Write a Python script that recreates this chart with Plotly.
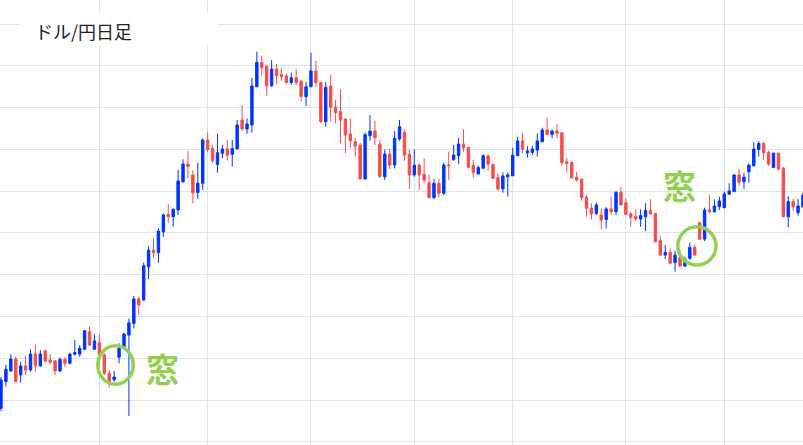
import pandas as pd
import plotly.graph_objects as go

# ドル/円 日足 (2016/10 - 2017/05)
holidays = ['2016-12-26', '2017-01-02']
days = pd.bdate_range('2016-10-04', '2017-05-23')
days = [d.strftime('%Y-%m-%d') for d in days if d.strftime('%Y-%m-%d') not in holidays]

month_starts = ['2016-11-01', '2016-12-01', '2017-01-03', '2017-02-01',
                '2017-03-01', '2017-04-03', '2017-05-01']

open_ = [
    101.60, 102.88, 103.39, 103.96, 103.20, 103.63, 103.44, 104.20, 103.63, 104.35,
    103.92, 103.88, 103.39, 103.95, 103.76, 104.19, 104.20, 104.43, 105.27, 104.43,
    104.74, 104.16, 103.28, 102.97, 104.05, 104.55, 105.11, 105.67, 106.84, 106.79,
    108.38, 109.18, 109.05, 110.06, 110.89, 110.78, 111.10, 112.45, 113.30, 112.78,
    111.93, 112.38, 114.45, 114.05, 113.28, 113.82, 114.02, 113.77, 114.02, 115.41,
    114.98, 115.17, 117.00, 118.17, 117.99, 117.05, 117.85, 117.59, 117.52, 117.21,
    117.43, 117.28, 116.53, 117.00, 117.76, 117.21, 115.33, 117.04, 116.02, 115.81,
    115.46, 114.74, 114.37, 114.21, 112.58, 114.66, 114.88, 114.26, 112.69, 113.78,
    113.25, 114.50, 114.82, 113.77, 112.78, 113.25, 112.81, 112.41, 111.69, 112.38,
    111.90, 113.25, 113.52, 113.70, 114.26, 114.10, 113.23, 112.82, 113.10, 113.69,
    113.29, 112.65, 112.11, 112.69, 112.74, 113.70, 114.41, 113.84, 113.86, 113.97,
    114.37, 114.93, 114.72, 114.88, 114.80, 113.41, 113.37, 112.67, 112.58, 111.71,
    111.18, 110.94, 110.86, 110.65, 111.15, 111.02, 111.95, 111.45, 110.91, 110.78,
    110.67, 110.78, 111.07, 110.94, 109.63, 108.94, 109.07, 108.58, 108.83, 108.42,
    108.79, 109.31, 110.49, 109.71, 111.10, 111.02, 111.26, 111.21, 111.86, 111.98,
    112.78, 112.45, 112.93, 113.22, 114.00, 114.29, 113.86, 113.13, 113.82, 113.10,
    110.78, 111.50, 110.97, 111.26,
]
high = [
    103.10, 103.68, 104.20, 104.07, 103.83, 104.11, 104.43, 104.67, 104.39, 104.43,
    104.19, 103.90, 104.03, 104.03, 104.27, 104.87, 104.63, 105.35, 105.54, 105.15,
    105.16, 104.24, 103.44, 103.39, 104.72, 105.22, 105.91, 106.98, 106.95, 108.58,
    109.38, 109.74, 110.22, 110.94, 111.39, 111.18, 113.02, 113.53, 113.93, 113.02,
    113.37, 114.53, 114.82, 114.21, 114.77, 114.21, 114.45, 114.45, 115.41, 116.13,
    115.49, 117.43, 118.68, 118.49, 118.00, 118.28, 118.09, 117.88, 117.65, 117.68,
    117.85, 117.28, 117.24, 118.64, 118.25, 117.21, 117.24, 117.57, 116.37, 116.89,
    115.46, 115.49, 114.56, 114.31, 114.80, 115.64, 115.38, 114.45, 114.00, 114.02,
    114.88, 115.41, 114.97, 113.97, 114.00, 113.33, 113.57, 112.78, 112.58, 112.58,
    113.37, 113.89, 114.21, 114.56, 114.97, 114.10, 113.49, 113.23, 113.77, 113.77,
    113.29, 112.86, 112.90, 112.89, 114.08, 114.61, 114.80, 114.16, 114.17, 114.77,
    115.04, 115.52, 114.96, 115.22, 114.80, 113.60, 113.41, 112.93, 112.58, 111.82,
    111.42, 111.45, 111.18, 111.23, 111.74, 111.98, 112.22, 111.66, 111.02, 111.13,
    111.13, 111.42, 111.61, 110.94, 109.85, 109.42, 109.27, 109.15, 109.22, 108.87,
    109.53, 109.42, 110.54, 111.21, 111.82, 111.61, 111.74, 111.98, 112.38, 112.80,
    113.06, 112.89, 113.33, 114.34, 114.40, 114.37, 113.94, 113.84, 113.85, 113.16,
    111.77, 111.63, 111.63, 111.92,
]
low = [
    101.47, 102.64, 103.36, 102.86, 102.83, 103.20, 103.36, 103.36, 103.60, 103.79,
    103.71, 103.20, 103.34, 103.57, 103.71, 104.14, 104.07, 104.39, 104.59, 104.39,
    104.11, 103.20, 102.59, 102.88, 103.76, 104.39, 101.23, 105.43, 106.07, 106.74,
    107.79, 108.79, 108.58, 109.82, 110.49, 110.30, 110.86, 112.41, 112.62, 111.42,
    111.63, 112.06, 113.86, 113.33, 112.89, 113.57, 113.46, 113.18, 114.02, 114.90,
    114.74, 114.80, 117.00, 117.53, 116.57, 117.00, 117.13, 117.29, 117.13, 117.09,
    117.09, 116.29, 116.08, 117.00, 117.00, 115.25, 115.09, 115.33, 115.25, 114.29,
    113.82, 114.05, 113.66, 112.58, 112.58, 114.42, 114.21, 112.69, 112.54, 113.06,
    113.09, 114.41, 113.46, 112.11, 112.69, 112.06, 112.38, 111.66, 111.63, 111.69,
    111.82, 112.54, 113.45, 113.29, 113.89, 113.11, 112.65, 112.82, 113.06, 112.97,
    112.58, 112.01, 111.93, 111.74, 112.74, 113.70, 113.82, 113.60, 113.73, 113.66,
    114.34, 114.69, 114.53, 114.53, 113.22, 112.93, 112.58, 112.45, 111.55, 110.78,
    110.65, 110.86, 110.17, 110.22, 110.86, 110.86, 111.34, 110.86, 110.30, 110.55,
    110.30, 110.09, 110.86, 109.55, 108.91, 108.75, 108.51, 108.14, 108.36, 108.36,
    108.71, 108.91, 109.66, 109.61, 110.94, 110.97, 111.10, 111.18, 111.82, 111.97,
    112.30, 112.11, 112.41, 113.18, 113.66, 113.49, 113.22, 113.13, 112.98, 110.78,
    110.27, 111.05, 110.83, 111.20,
]
close = [
    102.96, 103.47, 103.96, 102.88, 103.63, 103.44, 104.20, 103.63, 104.20, 103.87,
    103.82, 103.39, 103.95, 103.76, 104.20, 104.27, 104.48, 105.32, 104.63, 104.83,
    104.16, 103.28, 102.80, 103.10, 104.48, 105.16, 105.70, 106.84, 106.55, 108.43,
    109.18, 109.05, 110.09, 110.86, 110.78, 111.13, 112.49, 113.30, 113.18, 111.93,
    112.38, 114.45, 114.00, 113.46, 113.84, 114.02, 113.73, 114.05, 115.17, 114.98,
    115.22, 117.04, 118.17, 117.91, 117.05, 117.85, 117.53, 117.48, 117.21, 117.43,
    117.21, 116.53, 117.00, 117.76, 117.20, 115.33, 116.97, 116.02, 115.76, 115.41,
    114.69, 114.42, 114.16, 112.58, 114.71, 114.88, 114.56, 112.69, 113.78, 113.25,
    114.53, 115.09, 113.73, 112.78, 113.25, 112.78, 112.54, 111.69, 112.38, 111.90,
    113.25, 113.22, 113.73, 114.26, 114.08, 113.15, 112.89, 113.13, 113.70, 113.30,
    112.62, 112.11, 112.73, 112.78, 113.73, 114.41, 114.02, 113.93, 114.02, 114.41,
    114.93, 114.72, 114.88, 114.77, 113.37, 113.33, 112.65, 112.54, 111.69, 111.18,
    110.91, 111.34, 110.62, 111.15, 111.02, 111.95, 111.34, 110.89, 110.75, 110.67,
    110.83, 111.07, 110.91, 109.58, 108.94, 109.07, 108.55, 108.94, 108.42, 108.74,
    109.31, 108.94, 109.71, 111.10, 111.02, 111.29, 111.53, 111.87, 112.01, 112.78,
    112.43, 112.67, 113.25, 114.02, 114.29, 113.84, 113.30, 113.82, 113.06, 110.78,
    111.50, 111.26, 111.29, 111.82,
]

W, H = 803, 445
GREEN = '#92d050'
GRID = '#dae4ec'


def px_x(v):
    return v / W


def px_y(v):
    return 1 - v / H


fig = go.Figure(go.Candlestick(
    x=days, open=open_, high=high, low=low, close=close,
    increasing=dict(line=dict(color='#0033ff', width=1), fillcolor='#0033ff'),
    decreasing=dict(line=dict(color='#f24e4e', width=1), fillcolor='#f24e4e'),
    whiskerwidth=0,
    showlegend=False,
    hoverinfo='x+y',
))

fig.update_layout(
    width=W, height=H,
    margin=dict(l=0, r=0, t=0, b=0),
    paper_bgcolor='white',
    plot_bgcolor='white',
    xaxis=dict(
        type='category',
        range=[-0.2, 163.0],
        tickmode='array',
        tickvals=month_starts,
        showticklabels=False,
        showgrid=True,
        gridcolor=GRID,
        gridwidth=1,
        zeroline=False,
        showline=False,
        rangeslider=dict(visible=False),
    ),
    yaxis=dict(
        range=[99.845, 121.157],
        tick0=100,
        dtick=2,
        showticklabels=False,
        showgrid=True,
        gridcolor=GRID,
        gridwidth=1,
        zeroline=False,
        showline=False,
    ),
    shapes=[
        # タイトルの白い帯
        dict(type='rect', xref='paper', yref='paper',
             x0=px_x(20.5), x1=px_x(218), y0=px_y(45), y1=px_y(12),
             fillcolor='white', line=dict(width=0), layer='above'),
        # 窓の丸
        dict(type='circle', xref='paper', yref='paper',
             x0=px_x(97.8), x1=px_x(133.3), y0=px_y(384.3), y1=px_y(345.8),
             line=dict(color=GREEN, width=3.5), layer='above'),
        dict(type='circle', xref='paper', yref='paper',
             x0=px_x(677.8), x1=px_x(716), y0=px_y(265), y1=px_y(226.8),
             line=dict(color=GREEN, width=3.5), layer='above'),
    ],
    annotations=[
        dict(text='ドル/円日足', xref='paper', yref='paper',
             x=px_x(33), y=px_y(31), xanchor='left', yanchor='middle',
             showarrow=False,
             font=dict(family='Noto Sans CJK JP', size=18, color='#222222')),
        dict(text='<b>窓</b>', xref='paper', yref='paper',
             x=px_x(162.5), y=px_y(367.5), xanchor='center', yanchor='middle',
             showarrow=False,
             font=dict(family='Noto Sans CJK JP', size=33, color=GREEN)),
        dict(text='<b>窓</b>', xref='paper', yref='paper',
             x=px_x(679), y=px_y(185), xanchor='center', yanchor='middle',
             showarrow=False,
             font=dict(family='Noto Sans CJK JP', size=33, color=GREEN)),
    ],
)

# ページ余白を消して図をウィンドウ左上にぴったり合わせる
fig.write_html('out.html', config={'displayModeBar': False},
               post_script=["document.body.style.margin = '0';"])
